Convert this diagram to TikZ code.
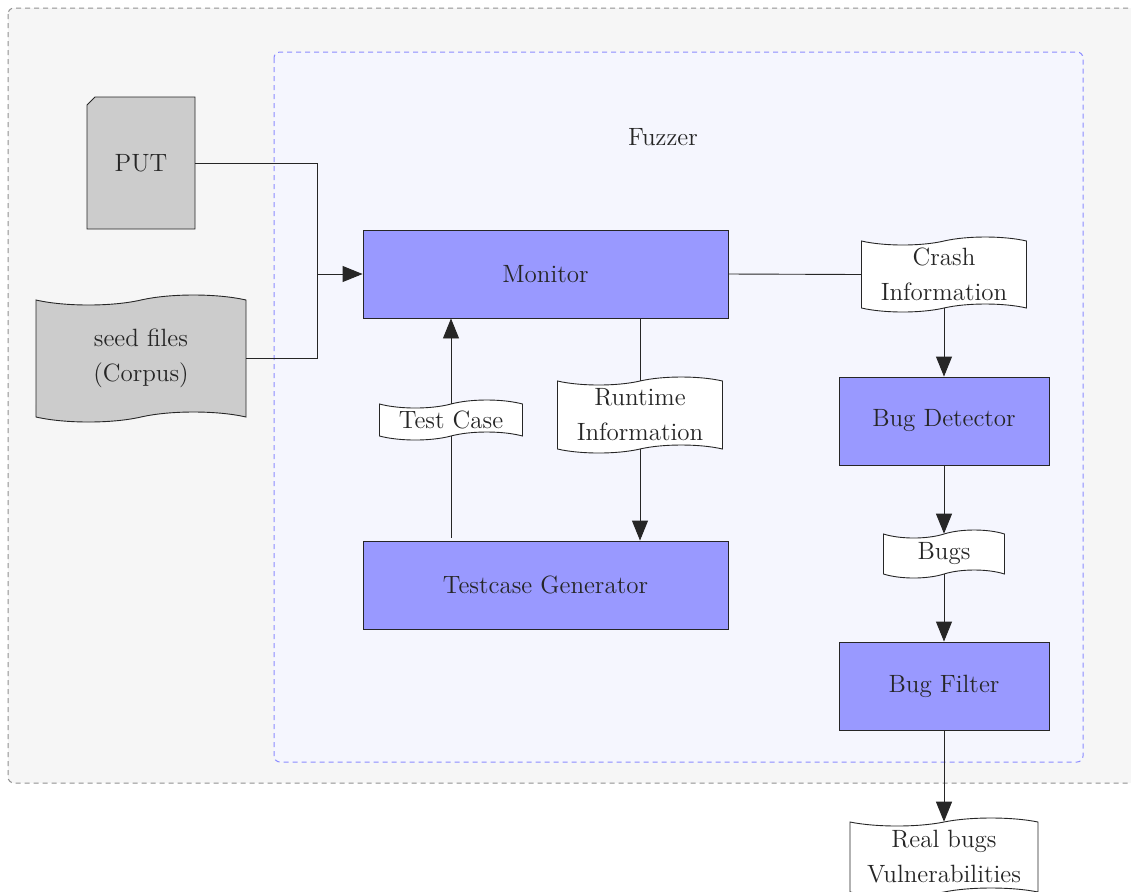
\documentclass[tikz,border=0pt]{standalone}
\usetikzlibrary{shapes.symbols,shapes.misc,arrows.meta}
\definecolor{outerfill}{RGB}{246,246,246}
\definecolor{innerfill}{RGB}{245,246,254}
\definecolor{procfill}{RGB}{153,153,255}
\definecolor{filefill}{RGB}{204,204,204}
\begin{document}
\begin{tikzpicture}[x=0.5pt,y=-0.5pt,
  every node/.style={font=\fontsize{12.5}{17.5}\selectfont, text=black!85},
  proc/.style={rectangle, draw=black!85, fill=procfill, line width=0.45pt,
    minimum width=182.5pt, minimum height=44pt},
  smallproc/.style={proc, minimum width=105pt},
  tapebox/.style={tape, draw=black!85, fill=white, align=center, inner sep=1pt,
    tape bend height=4pt, line width=0.45pt},
  conn/.style={draw=black!85, line width=0.45pt},
  arr/.style={conn, -{Triangle[length=10pt,width=8pt]}}]
\useasboundingbox (0,0) rectangle (1131,891);
\clip (0,0) rectangle (1131,891);

% enclosing regions
\draw[gray!75!black!70, fill=outerfill, dash pattern=on 2.5pt off 2pt, rounded corners=3pt, line width=0.5pt]
  (8,8) rectangle (1150,783);
\draw[blue!45, fill=innerfill, dash pattern=on 2.5pt off 2pt, rounded corners=3pt, line width=0.5pt]
  (274,52) rectangle (1083,762);
\node (fuzzer) at (663,137) {Fuzzer};

% inputs
\node[chamfered rectangle, chamfered rectangle corners=north west, chamfered rectangle xsep=2pt,
  chamfered rectangle ysep=2pt, draw=black!85, fill=filefill, line width=0.45pt,
  minimum width=54pt, minimum height=66pt, inner sep=0pt] (put) at (141,163) {PUT};
\node[tapebox, fill=filefill, minimum width=105pt, minimum height=63.5pt, tape bend height=5pt]
  (seed) at (141,358.5) {seed files\\(Corpus)};

% processing blocks
\node[proc] (monitor) at (545.5,274) {Monitor};
\node[proc] (gen) at (545.5,585) {Testcase Generator};
\node[smallproc] (detector) at (944,421) {Bug Detector};
\node[smallproc] (filter) at (944,686) {Bug Filter};

% data items
\node[tapebox, minimum width=82.5pt, minimum height=37.5pt] (crash) at (944,274.5) {Crash\\Information};
\node[tapebox, minimum width=71.5pt, minimum height=20pt] (tc) at (451,420) {Test Case};
\node[tapebox, minimum width=82.5pt, minimum height=38pt] (rt) at (640,415) {Runtime\\Information};
\node[tapebox, minimum width=60.5pt, minimum height=24pt] (bugs) at (944,554) {Bugs};
\node[tapebox, minimum width=94pt, minimum height=39pt] (real) at (944,857) {Real bugs\\Vulnerabilities};

% connectors
\coordinate (join) at (317.5,274);
\draw[conn] (put.east) -| (join);
\draw[conn] (seed.east) -| (join);
\draw[arr] (join) -- (monitor.west);

\draw[conn] (monitor.east) -- (crash.west);
\draw[arr] (crash.south) -- (detector.north);
\draw[arr] (detector.south) -- (bugs.north);
\draw[arr] (bugs.south) -- (filter.north);
\draw[arr] (filter.south) -- (real.north);

\draw[conn] ([yshift=1.5pt]gen.north -| tc.south) -- (tc.south);
\draw[arr] (tc.north) -- (tc.north |- monitor.south);

\draw[conn] (monitor.south -| rt.north) -- (rt.north);
\draw[arr] (rt.south) -- (rt.south |- gen.north);
\end{tikzpicture}
\end{document}
